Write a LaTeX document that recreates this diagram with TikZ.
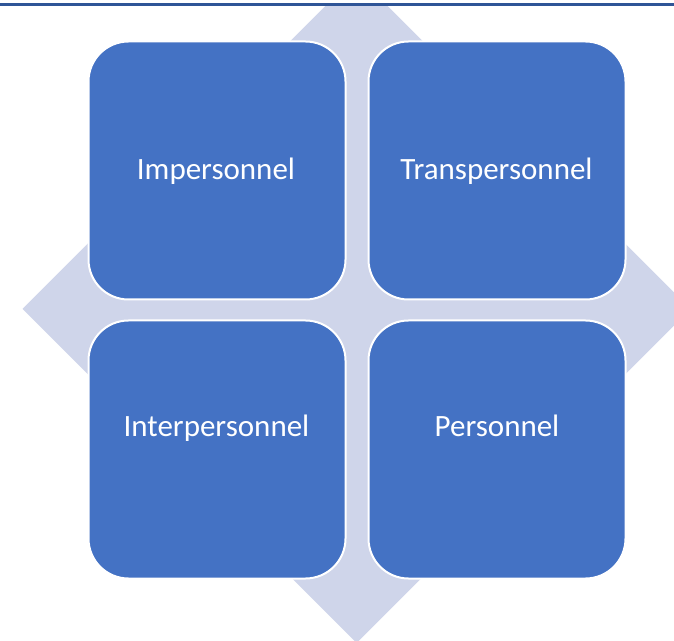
\documentclass[tikz,border=0pt]{standalone}
\usepackage{fontspec}
\setmainfont{Carlito}
\definecolor{boxblue}{HTML}{4472C4}
\definecolor{lav}{HTML}{CFD5EA}
\definecolor{topline}{HTML}{2F5597}
\begin{document}
\begin{tikzpicture}[x=1pt,y=1pt,
  quad/.style={draw=white, line width=2pt, fill=boxblue, rounded corners=40pt,
    minimum width=257pt, minimum height=258pt, inner sep=0pt},
  lbl/.style={text=white, font=\fontsize{31}{36}\selectfont, inner sep=0pt, anchor=base}]
\useasboundingbox (0,0) rectangle (674,640);
\begin{scope}
\clip (0,0) rectangle (674,635);
\fill[lav] (356.5,665) -- (690.5,331) -- (356.5,-3) -- (22.5,331) -- cycle;
\end{scope}
\draw[topline, line width=2.2pt] (0,635.5) -- (674,635.5);
\node[quad] (imp) at (217,469.5) {};
\node[quad] (trans) at (497,469.5) {};
\node[quad] (inter) at (217,190.5) {};
\node[quad] (pers) at (497,190.5) {};
\node[lbl] (timp) at (216,460.5) {Impersonnel};
\node[lbl] (ttrans) at (496.5,460.5) {Transpersonnel};
\node[lbl] (tinter) at (216.5,203.5) {Interpersonnel};
\node[lbl] (tpers) at (497,203.5) {Personnel};
\end{tikzpicture}
\end{document}
